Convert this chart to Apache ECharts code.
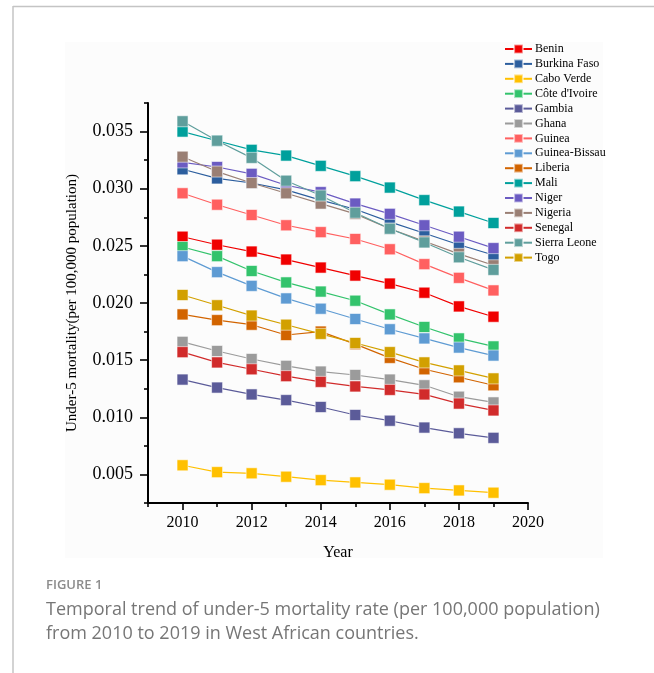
<!DOCTYPE html>
<html>
<head>
<meta charset="utf-8">
<script src="https://cdn.jsdelivr.net/npm/echarts@6/dist/echarts.min.js"></script>
<style>
  html, body { margin: 0; padding: 0; background: #ffffff; }
  #chart { width: 654px; height: 673px; }
</style>
</head>
<body>
<div id="chart"></div>
<script>
// Under-5 mortality by country, 2010–2019
const years = [2010, 2011, 2012, 2013, 2014, 2015, 2016, 2017, 2018, 2019];

const countries = ['Benin', 'Burkina Faso', 'Cabo Verde', "Côte d'Ivoire", 'Gambia', 'Ghana', 'Guinea',
  'Guinea-Bissau', 'Liberia', 'Mali', 'Niger', 'Nigeria', 'Senegal', 'Sierra Leone', 'Togo'];

const benin        = [0.0258, 0.0251, 0.0245, 0.0238, 0.0231, 0.0224, 0.0217, 0.0209, 0.0197, 0.0188];
const burkinaFaso  = [0.0317, 0.0309, 0.0305, 0.0299, 0.0290, 0.0282, 0.0271, 0.0261, 0.0251, 0.0242];
const caboVerde    = [0.0058, 0.0052, 0.0051, 0.0048, 0.0045, 0.0043, 0.0041, 0.0038, 0.0036, 0.0034];
const coteDIvoire  = [0.0249, 0.0241, 0.0228, 0.0218, 0.0210, 0.0202, 0.0190, 0.0179, 0.0169, 0.0162];
const gambia       = [0.0133, 0.0126, 0.0120, 0.0115, 0.0109, 0.0102, 0.0097, 0.0091, 0.0086, 0.0082];
const ghana        = [0.0166, 0.0158, 0.0151, 0.0145, 0.0140, 0.0137, 0.0133, 0.0128, 0.0118, 0.0113];
const guinea       = [0.0296, 0.0286, 0.0277, 0.0268, 0.0262, 0.0256, 0.0247, 0.0234, 0.0222, 0.0211];
const guineaBissau = [0.0241, 0.0227, 0.0215, 0.0204, 0.0195, 0.0186, 0.0177, 0.0169, 0.0161, 0.0154];
const liberia      = [0.0190, 0.0185, 0.0181, 0.0172, 0.0175, 0.0164, 0.0152, 0.0142, 0.0135, 0.0128];
const mali         = [0.0350, 0.0342, 0.0334, 0.0329, 0.0320, 0.0311, 0.0301, 0.0290, 0.0280, 0.0270];
const niger        = [0.0323, 0.0319, 0.0313, 0.0303, 0.0297, 0.0287, 0.0278, 0.0268, 0.0258, 0.0248];
const nigeria      = [0.0328, 0.0315, 0.0305, 0.0296, 0.0287, 0.0278, 0.0265, 0.0254, 0.0243, 0.0233];
const senegal      = [0.0157, 0.0148, 0.0142, 0.0136, 0.0131, 0.0127, 0.0124, 0.0120, 0.0112, 0.0106];
const sierraLeone  = [0.0359, 0.0342, 0.0327, 0.0307, 0.0294, 0.0279, 0.0265, 0.0253, 0.0240, 0.0229];
const togo         = [0.0207, 0.0198, 0.0189, 0.0181, 0.0173, 0.0165, 0.0157, 0.0148, 0.0141, 0.0134];

const seriesValues = [benin, burkinaFaso, caboVerde, coteDIvoire, gambia, ghana, guinea,
  guineaBissau, liberia, mali, niger, nigeria, senegal, sierraLeone, togo];

// Tick positions
const xMajorTicks = [2010, 2012, 2014, 2016, 2018, 2020];
const xMinorTicks = [2009, 2011, 2013, 2015, 2017, 2019];
const yMajorTicks = [0.005, 0.010, 0.015, 0.020, 0.025, 0.030, 0.035];
const yMinorTicks = [0.0025, 0.0075, 0.0125, 0.0175, 0.0225, 0.0275, 0.0325, 0.0375];

const palette = ['#F00000', '#2C5E9E', '#FFC000', '#33C36C', '#5B5B99', '#9B9B9B', '#FF6060',
  '#5E9BD3', '#D26400', '#00A09C', '#6B5BC2', '#9A7F74', '#D12B2B', '#5F9E9C', '#D2A000'];

const serif = '"Liberation Serif", "Times New Roman", serif';
const sans = '"Open Sans", "Noto Sans", sans-serif';

const chart = echarts.init(document.getElementById('chart'), null, { renderer: 'canvas' });

const axisLineStyle = { color: '#000', width: 2 };

const series = countries.map((name, i) => ({
  name,
  type: 'line',
  xAxisIndex: 0,
  yAxisIndex: 0,
  data: years.map((y, k) => [y, seriesValues[i][k]]),
  symbol: 'rect',
  symbolSize: 11,
  showSymbol: true,
  animation: false,
  color: palette[i],
  lineStyle: { width: 1.2, color: palette[i] },
  itemStyle: { color: palette[i], borderColor: 'rgba(255,255,255,0.55)', borderWidth: 1 },
  emphasis: { disabled: true }
}));

chart.setOption({
  backgroundColor: '#ffffff',
  animation: false,
  grid: { left: 148, top: 103, width: 380, height: 400 },
  legend: {
    orient: 'vertical',
    left: 504,
    top: 43,
    padding: 0,
    itemWidth: 27,
    itemHeight: 11,
    itemGap: 2.9,
    textStyle: { fontFamily: serif, fontSize: 12, lineHeight: 11, color: '#000', padding: [0, 0, 0, -2] },
    data: countries
  },
  xAxis: [
    {
      type: 'value', min: 2009, max: 2020, interval: 1,
      name: 'Year', nameLocation: 'middle', nameGap: 42,
      nameTextStyle: { fontFamily: serif, fontSize: 16, color: '#000' },
      axisLine: { show: true, lineStyle: axisLineStyle },
      axisTick: { show: true, length: 7, inside: false, customValues: xMajorTicks, lineStyle: { color: '#000', width: 1.6 } },
      axisLabel: { customValues: xMajorTicks, fontFamily: serif, fontSize: 16, color: '#000', margin: 12,
        formatter: v => String(v) },
      splitLine: { show: false }
    },
    {
      type: 'value', min: 2009, max: 2020, interval: 1, position: 'bottom',
      axisLine: { show: false },
      axisTick: { show: true, length: 4, customValues: xMinorTicks, lineStyle: { color: '#000', width: 1.6 } },
      axisLabel: { show: false },
      splitLine: { show: false }
    }
  ],
  yAxis: [
    {
      type: 'value', min: 0.0025, max: 0.0375, interval: 0.0025,
      name: 'Under-5 mortality(per 100,000 population)', nameLocation: 'middle', nameGap: 68,
      nameTextStyle: { fontFamily: serif, fontSize: 15, color: '#000' },
      axisLine: { show: true, lineStyle: axisLineStyle },
      axisTick: { show: true, length: 8, customValues: yMajorTicks, lineStyle: { color: '#000', width: 1.6 } },
      axisLabel: {
        customValues: yMajorTicks, fontFamily: serif, fontSize: 18, color: '#000', margin: 15,
        formatter: v => v.toFixed(3)
      },
      splitLine: { show: false }
    },
    {
      type: 'value', min: 0.0025, max: 0.0375, interval: 0.0025, position: 'left',
      axisLine: { show: false },
      axisTick: { show: true, length: 4, customValues: yMinorTicks, lineStyle: { color: '#000', width: 1.6 } },
      axisLabel: { show: false },
      splitLine: { show: false }
    }
  ],
  graphic: [
    { type: 'rect', z: -10, shape: { x: 65, y: 42, width: 538, height: 516 }, style: { fill: '#fcfcfc' } },
    { type: 'line', shape: { x1: 13, y1: 6.5, x2: 654, y2: 6.5 }, style: { stroke: '#c4c4c4', lineWidth: 1.5 } },
    { type: 'line', shape: { x1: 13, y1: 6, x2: 13, y2: 673 }, style: { stroke: '#c4c4c4', lineWidth: 1.5 } },
    { type: 'text', left: 46, top: 579, style: { text: 'FIGURE 1', fill: '#8c8c8c', font: '600 13px ' + sans } },
    { type: 'text', left: 46, top: 601, style: { text: 'Temporal trend of under-5 mortality rate (per 100,000 population)', fill: '#767676', font: '18px ' + sans } },
    { type: 'text', left: 46, top: 625, style: { text: 'from 2010 to 2019 in West African countries.', fill: '#767676', font: '18px ' + sans } }
  ],
  series
});
</script>
</body>
</html>
